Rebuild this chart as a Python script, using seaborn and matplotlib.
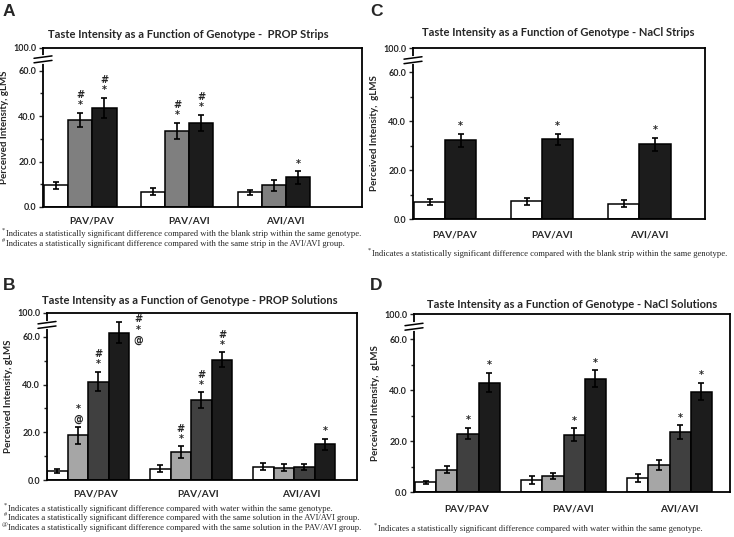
import matplotlib
matplotlib.use("Agg")
import matplotlib.pyplot as plt
import seaborn as sns
import pandas as pd

sns.set_theme(style="ticks")
plt.rcParams['font.family'] = ['Lato', 'DejaVu Sans']

W, H = 734, 537
genotypes = ["PAV/PAV", "PAV/AVI", "AVI/AVI"]
tick_vals = [0, 20, 40, 60, 70]
tick_labels = ["0.0", "20.0", "40.0", "60.0", "100.0"]

# A - PROP strips
a_conds = ["Blank", "PROP low", "PROP high"]
a_means = [[9.5, 38.3, 43.5], [6.8, 33.5, 37.0], [6.5, 9.5, 13.0]]
a_errs = [[1.5, 3.3, 4.5], [1.7, 3.5, 3.5], [1.2, 2.3, 2.7]]
a_marks = [["", "#\n*", "#\n*"], ["", "#\n*", "#\n*"], ["", "", "*"]]
a_colors = ["white", "#7f7f7f", "#1c1c1c"]

# C - NaCl strips
c_conds = ["Blank", "NaCl"]
c_means = [[7.0, 32.3], [7.2, 32.7], [6.3, 30.5]]
c_errs = [[1.3, 2.7], [1.5, 2.3], [1.3, 2.7]]
c_marks = [["", "*"], ["", "*"], ["", "*"]]
c_colors = ["white", "#1c1c1c"]

# B - PROP solutions
b_conds = ["Water", "PROP 1", "PROP 2", "PROP 3"]
b_means = [[3.8, 18.7, 41.2, 61.8], [4.7, 11.6, 33.5, 50.5], [5.5, 5.2, 5.4, 15.0]]
b_errs = [[0.8, 3.5, 4.0, 4.5], [1.5, 2.5, 3.2, 3.0], [1.5, 1.5, 1.3, 2.3]]
b_marks = [["", "*\n@", "#\n*", ""], ["", "#\n*", "#\n*", "#\n*"], ["", "", "", "*"]]
b_side = {(0, 3): "#\n*\n@"}
b_colors = ["white", "#a6a6a6", "#404040", "#1c1c1c"]

# D - NaCl solutions
d_conds = ["Water", "NaCl 1", "NaCl 2", "NaCl 3"]
d_means = [[3.8, 8.8, 23.0, 43.0], [4.7, 6.2, 22.5, 44.5], [5.5, 10.5, 23.5, 39.5]]
d_errs = [[0.7, 1.5, 2.3, 3.7], [1.5, 1.2, 2.5, 3.3], [1.5, 2.0, 2.7, 3.5]]
d_marks = [["", "", "*", "*"], ["", "", "*", "*"], ["", "", "*", "*"]]
d_colors = ["white", "#a6a6a6", "#404040", "#1c1c1c"]

fig = plt.figure(figsize=(W / 100, H / 100), dpi=100)


def rect(l, t, r, b):
    return [l / W, 1 - b / H, (r - l) / W, (b - t) / H]


def ftext(x, y, s, **kw):
    fig.text(x / W, 1 - y / H, s, **kw)


mark_kw = dict(fontsize=7, fontweight="bold", family="DejaVu Sans",
               ha="center")


def panel(box, conds, means, errs, marks, colors, width, xlim, shift, xpad,
          ylab, side=None):
    ax = fig.add_axes(rect(*box))
    df = pd.DataFrame([(g, c, means[i][j]) for i, g in enumerate(genotypes)
                       for j, c in enumerate(conds)],
                      columns=["genotype", "condition", "value"])
    sns.barplot(data=df, x="genotype", y="value", hue="condition",
                order=genotypes, hue_order=conds, palette=colors,
                saturation=1, edgecolor="black", linewidth=1.1, width=width,
                errorbar=None, legend=False, ax=ax)
    bar_groups = list(ax.containers)
    for j, cont in enumerate(bar_groups):
        for i, bar in enumerate(cont):
            cx = bar.get_x() + bar.get_width() / 2
            top = bar.get_height()
            ax.errorbar(cx, top, yerr=errs[i][j], color="black", lw=1.2,
                        capsize=2, capthick=1.2, zorder=4)
            if marks[i][j]:
                ax.annotate(marks[i][j], (cx, top + errs[i][j]),
                            xytext=(0, 2), textcoords="offset points",
                            va="bottom", linespacing=1.0, **mark_kw)
            if side and (i, j) in side:
                ax.annotate(side[(i, j)], (cx + bar.get_width() * 0.95, 69.5),
                            va="top", linespacing=1.05, **mark_kw)
    ax.set_ylim(0, 70)
    ax.set_xlim(*xlim)
    ax.set_yticks(tick_vals)
    ax.set_yticklabels(tick_labels)
    ax.set_yticks([10, 30, 50], minor=True)
    ax.set_xticks([k + shift for k in range(3)])
    ax.set_xticklabels(genotypes)
    ax.tick_params(axis="x", length=0, pad=xpad, labelsize=7.2)
    ax.tick_params(axis="y", which="major", length=3, width=1, pad=2,
                   labelsize=6.5)
    ax.tick_params(axis="y", which="minor", length=2, width=1)
    for lab in ax.get_xticklabels() + ax.get_yticklabels():
        lab.set_fontweight("bold")
    ax.set_xlabel("")
    ax.set_ylabel(ylab, fontsize=7, fontweight="bold", labelpad=3)
    for sp in ax.spines.values():
        sp.set_linewidth(1.3)
        sp.set_color("black")
    # axis break marks on the left spine
    yb = 65 / 70
    h = (box[3] - box[1])
    dy = 4.5 / h
    dx = 9 / (box[2] - box[0])
    ax.plot([0, 0], [yb - dy / 2, yb + dy / 2], color="white", lw=3,
            transform=ax.transAxes, clip_on=False, zorder=5)
    for off in (-dy / 2, dy / 2):
        ax.plot([-dx, dx], [yb + off - 1.2 / h, yb + off + 1.2 / h],
                color="black", lw=1.1, transform=ax.transAxes,
                clip_on=False, zorder=6)
    return ax


panel((43, 48, 362, 207), a_conds, a_means, a_errs, a_marks, a_colors, 0.75,
      (-0.385, 2.91), 0.12, 7, "Perceived Intensity, gLMS")
panel((413, 48, 705, 219), c_conds, c_means, c_errs, c_marks, c_colors, 0.64,
      (-0.33, 2.675), 0.1, 8.5, "Perceived Intensity,  gLMS")
panel((47, 313, 357, 480), b_conds, b_means, b_errs, b_marks, b_colors, 0.8,
      (-0.4, 2.61), 0.07, 6.5, "Perceived Intensity, gLMS", side=b_side)
panel((414, 314, 730, 492), d_conds, d_means, d_errs, d_marks, d_colors, 0.8,
      (-0.41, 2.57), 0.09, 9, "Perceived Intensity,  gLMS")

# panel letters and titles
letter_kw = dict(fontsize=12.5, fontweight="bold", family="Liberation Sans",
                 va="center", ha="left")
ftext(3, 12, "A", **letter_kw)
ftext(370, 12, "C", **letter_kw)
ftext(3, 286, "B", **letter_kw)
ftext(370, 286, "D", **letter_kw)

title_kw = dict(fontsize=8, fontweight="bold", ha="center", va="center")
ftext(188, 34, "Taste Intensity as a Function of Genotype -  PROP Strips", **title_kw)
ftext(558, 33, "Taste Intensity as a Function of Genotype - NaCl Strips", **title_kw)
ftext(190, 301, "Taste Intensity as a Function of Genotype - PROP Solutions", **title_kw)
ftext(572, 305, "Taste Intensity as a Function of Genotype - NaCl Solutions", **title_kw)

# footnotes
note_kw = dict(fontsize=6.2, family="Liberation Serif", va="center", ha="left")
sym_kw = dict(fontsize=4.5, family="Liberation Serif", va="center", ha="left")


def note(x, y, sym, s, gap=3.5):
    ftext(x, y - 3.5, sym, **sym_kw)
    ftext(x + gap, y, s, **note_kw)


note(2, 234, "*", "Indicates a statistically significant difference compared with the blank strip within the same genotype.")
note(2, 244, "#", "Indicates a statistically significant difference compared with the same strip in the AVI/AVI group.")
note(368, 254, "*", "Indicates a statistically significant difference compared with the blank strip within the same genotype.")
note(4, 509, "*", "Indicates a statistically significant difference compared with water within the same genotype.")
note(4, 518.5, "#", "Indicates a statistically significant difference compared with the same solution in the AVI/AVI group.")
note(2, 528, "@", "Indicates a statistically significant difference compared with the same solution in the PAV/AVI group.", gap=6)
note(374, 529, "*", "Indicates a statistically significant difference compared with water within the same genotype.")

fig.savefig("out.png", dpi=100)
